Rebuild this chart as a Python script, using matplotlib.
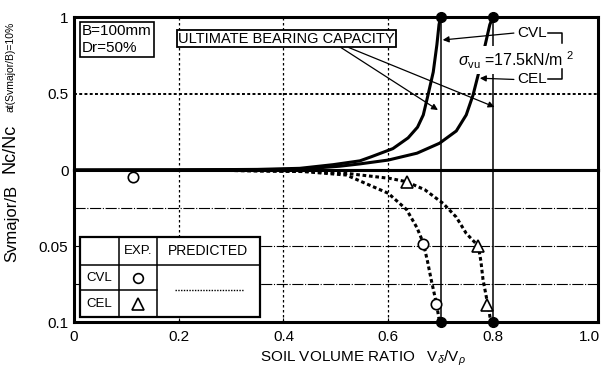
import numpy as np
import matplotlib.pyplot as plt
from matplotlib.patches import Rectangle
from matplotlib.transforms import ScaledTranslation

plt.rcParams['font.family'] = ['Liberation Sans', 'DejaVu Sans']
plt.rcParams['mathtext.fontset'] = 'custom'
plt.rcParams['mathtext.rm'] = 'Liberation Sans'
plt.rcParams['mathtext.it'] = 'Liberation Sans:italic'

# upper panel : Nc/Nc at(Svmajor/B)=10%
cvl_x = [0, 0.2, 0.35, 0.431, 0.495, 0.546, 0.568, 0.609, 0.638, 0.656, 0.667, 0.676, 0.686, 0.693, 0.697, 0.7]
cvl_nc = [0, 0.001, 0.004, 0.011, 0.035, 0.06, 0.087, 0.14, 0.21, 0.28, 0.36, 0.49, 0.64, 0.82, 0.95, 1.0]
cel_x = [0, 0.2, 0.35, 0.431, 0.508, 0.546, 0.6, 0.655, 0.698, 0.73, 0.749, 0.762, 0.772, 0.784, 0.794, 0.8]
cel_nc = [0, 0.001, 0.002, 0.005, 0.025, 0.04, 0.065, 0.11, 0.175, 0.255, 0.36, 0.49, 0.625, 0.8, 0.95, 1.0]

# lower panel : Svmajor/B predicted
cvl_pred_x = [0, 0.3, 0.437, 0.52, 0.6, 0.635, 0.655, 0.667, 0.675, 0.682, 0.692, 0.698]
cvl_pred_s = [0, 0.0003, 0.001, 0.0033, 0.0153, 0.026, 0.038, 0.048, 0.06, 0.072, 0.0877, 0.1]
cel_pred_x = [0, 0.3, 0.45, 0.52, 0.603, 0.635, 0.67, 0.705, 0.73, 0.749, 0.772, 0.777, 0.781, 0.791, 0.796]
cel_pred_s = [0, 0.0003, 0.001, 0.0022, 0.0055, 0.0077, 0.013, 0.022, 0.031, 0.0417, 0.05, 0.06, 0.072, 0.09, 0.1]

# experiments
cvl_exp_x = [0.112, 0.667, 0.692]
cvl_exp_s = [0.0046, 0.049, 0.088]
cel_exp_x = [0.635, 0.772, 0.788]
cel_exp_s = [0.008, 0.05, 0.089]

# ultimate bearing capacity
ult_x = [0.7, 0.8]

xticks = [0, 0.2, 0.4, 0.6, 0.8, 1.0]
xticklabels = ['0', '0.2', '0.4', '0.6', '0.8', '1.0']

fig = plt.figure(figsize=(6.05, 3.73), dpi=100)
ax1 = fig.add_axes([0.1223, 0.5442, 0.8656, 0.4102])
ax2 = fig.add_axes([0.1223, 0.1367, 0.8656, 0.4075])

for ax in (ax1, ax2):
    ax.set_xlim(0, 1)
    for s in ax.spines.values():
        s.set_linewidth(2.2)
    for gx in [0.2, 0.4, 0.6]:
        ax.axvline(gx, color='black', lw=0.9, ls=(0, (2, 2)), zorder=1)
    for ux in ult_x:
        ax.axvline(ux, color='black', lw=1.1, zorder=2)

# upper
ax1.set_ylim(0, 1)
ax1.set_yticks([0, 0.5, 1])
ax1.set_yticklabels(['0', '0.5', '1'])
ax1.tick_params(axis='x', bottom=False, labelbottom=False)
ax1.tick_params(axis='y', length=0, labelsize=11, pad=4)
ax1.axhline(0.5, color='black', lw=1.4, ls=(0, (1.5, 1.2)), zorder=1)

ax1.plot(cvl_x, cvl_nc, color='black', lw=2.2, zorder=3)
ax1.plot(cel_x, cel_nc, color='black', lw=2.2, zorder=3)
ax1.plot(ult_x, [1, 1], 'o', color='black', ms=7, clip_on=False, zorder=6)

ax1.text(0.015, 0.955, 'B=100mm\nDr=50%', fontsize=11, ha='left', va='top', linespacing=1.3,
         bbox=dict(boxstyle='square,pad=0.15', fc='white', ec='black', lw=1.2), zorder=5)
ax1.text(0.4055, 0.859, 'ULTIMATE BEARING CAPACITY', fontsize=10.5, ha='center', va='center',
         bbox=dict(boxstyle='square,pad=0.1', fc='white', ec='black', lw=1.3), zorder=5)
arr = dict(arrowstyle='-|>', color='black', lw=0.9, mutation_scale=9, shrinkA=0, shrinkB=0)
ax1.annotate('', xy=(0.695, 0.392), xytext=(0.51, 0.8), arrowprops=arr, zorder=4)
ax1.annotate('', xy=(0.803, 0.412), xytext=(0.525, 0.8), arrowprops=arr, zorder=4)

ax1.text(0.733, 0.72, r'$\sigma_{\rm vu}$ =17.5kN/m $^{2}$', fontsize=11.5, ha='left', va='center',
         bbox=dict(boxstyle='square,pad=0.2', fc='white', ec='none'), zorder=5)
ax1.text(0.847, 0.895, 'CVL', fontsize=11, ha='left', va='center', zorder=5)
ax1.text(0.847, 0.592, 'CEL', fontsize=11, ha='left', va='center', zorder=5)
ax1.annotate('', xy=(0.704, 0.85), xytext=(0.84, 0.895), arrowprops=arr, zorder=4)
ax1.annotate('', xy=(0.775, 0.60), xytext=(0.84, 0.592), arrowprops=arr, zorder=6)
ax1.plot([0.905, 0.931, 0.931], [0.895, 0.895, 0.83], color='black', lw=1.1, zorder=5)
ax1.plot([0.905, 0.931, 0.931], [0.592, 0.592, 0.66], color='black', lw=1.1, zorder=5)

# lower
ax2.set_ylim(0.1, 0)
ax2.set_yticks([0.05, 0.1])
ax2.set_yticklabels(['0.05', '0.1'])
ax2.set_yticks([0.025, 0.075], minor=True)
ax2.tick_params(axis='y', which='both', length=0, labelsize=11, pad=4)
ax2.set_xticks(xticks)
ax2.set_xticklabels(xticklabels)
ax2.tick_params(axis='x', direction='in', length=3, labelsize=11, pad=6)
last = ax2.get_xticklabels()[-1]
last.set_transform(last.get_transform() + ScaledTranslation(-6 / 72, 0, fig.dpi_scale_trans))
for gy in [0.025, 0.05, 0.075]:
    ax2.axhline(gy, color='black', lw=0.8, ls=(0, (10, 1.5, 1, 1.5)), zorder=1)

ax2.plot(cvl_pred_x, cvl_pred_s, color='black', lw=2.2, ls=(0, (1.2, 0.9)), zorder=3)
ax2.plot(cel_pred_x, cel_pred_s, color='black', lw=2.2, ls=(0, (1.2, 0.9)), zorder=3)
ax2.plot(cvl_exp_x, cvl_exp_s, 'o', ms=7.5, mfc='white', mec='black', mew=1.2, zorder=4)
ax2.plot(cel_exp_x, cel_exp_s, '^', ms=8.5, mfc='white', mec='black', mew=1.2, zorder=4)
ax2.plot(ult_x, [0.1, 0.1], 'o', color='black', ms=7, clip_on=False, zorder=6)

# legend table
tr = ax2.transAxes
cols = [0.0115, 0.0859, 0.158, 0.355]
rows = [0.559, 0.375, 0.2105, 0.033]
ax2.add_patch(Rectangle((cols[0], rows[3]), cols[3] - cols[0], rows[0] - rows[3], transform=tr,
                        fc='white', ec='black', lw=1.6, zorder=7))
lk = dict(color='black', lw=1.1, transform=tr, zorder=8)
ax2.plot([cols[1], cols[1]], [rows[0], rows[3]], **lk)
ax2.plot([cols[2], cols[2]], [rows[0], rows[3]], **lk)
ax2.plot([cols[0], cols[3]], [rows[1], rows[1]], **lk)
ax2.plot([cols[0], cols[2]], [rows[2], rows[2]], **lk)
tk = dict(transform=tr, ha='center', va='center', zorder=9)
ax2.text((cols[1] + cols[2]) / 2, (rows[0] + rows[1]) / 2, 'EXP.', fontsize=9.5, **tk)
ax2.text((cols[2] + cols[3]) / 2, (rows[0] + rows[1]) / 2, 'PREDICTED', fontsize=10, **tk)
ax2.text((cols[0] + cols[1]) / 2, (rows[1] + rows[2]) / 2, 'CVL', fontsize=9.5, **tk)
ax2.text((cols[0] + cols[1]) / 2, (rows[2] + rows[3]) / 2, 'CEL', fontsize=9.5, **tk)
ax2.plot([(cols[1] + cols[2]) / 2], [(rows[1] + rows[2]) / 2], 'o', ms=7, mfc='white', mec='black',
         mew=1.2, transform=tr, zorder=9)
ax2.plot([(cols[1] + cols[2]) / 2], [(rows[2] + rows[3]) / 2], '^', ms=8, mfc='white', mec='black',
         mew=1.2, transform=tr, zorder=9)
ax2.plot([0.193, 0.324], [0.21, 0.21], color='black', lw=1.0, ls=(0, (1, 1)), transform=tr, zorder=9)

# axis labels
fig.text(0.6, 0.04, r'SOIL VOLUME RATIO   V$_\delta$/V$_\rho$', fontsize=11, ha='center', va='center')
fig.text(0.016, 0.536, 'Nc/Nc', fontsize=13, rotation=90, ha='center', va='bottom')
fig.text(0.017, 0.70, 'at(Svmajor/B)=10%', fontsize=7.5, rotation=90, ha='center', va='bottom')
fig.text(0.02, 0.402, 'Svmajor/B', fontsize=12, rotation=90, ha='center', va='center')

fig.savefig('out.png', dpi=100)
